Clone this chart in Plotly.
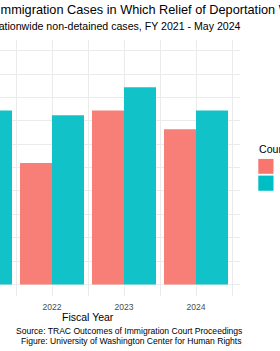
import plotly.graph_objects as go

# ---- data ----
years = [2021, 2022, 2023, 2024]
no_counsel = [24.9, 13.0, 18.6, 16.6]      # red series
with_counsel = [18.6, 18.1, 21.1, 18.6]    # teal series
series_names = ["No", "Yes"]
x_tick_vals = [2021, 2021.5, 2022, 2022.5, 2023, 2023.5, 2024, 2024.5]
x_tick_text = ["2021", "", "2022", "", "2023", "", "2024", ""]
y_grid_vals = [0, 2.5, 5, 7.5, 10, 12.5, 15, 17.5, 20, 22.5, 25]

title_text = "Immigration Cases in Which Relief of Deportation Was Granted"
subtitle_text = "Nationwide non-detained cases, FY 2021 - May 2024"
caption_lines = ["Source: TRAC Outcomes of Immigration Court Proceedings",
                 "Figure: University of Washington Center for Human Rights"]
x_title = "Fiscal Year"
legend_title = "Counsel"

RED = "#F8766D"
TEAL = "#00BFC4"
FONT = "Liberation Sans, Arial, sans-serif"

W, H = 280, 351
ML, MR, MT, MB = 0, 40, 40.3, 54.5
PW = W - ML - MR
PH = H - MT - MB


def px(p):
    return (p - ML) / PW


def py(p):
    return (H - MB - p) / PH


fig = go.Figure()
fig.add_trace(go.Bar(x=years, y=no_counsel, name=series_names[0],
                     marker=dict(color=RED, line=dict(width=0)), opacity=0.93,
                     showlegend=False))
fig.add_trace(go.Bar(x=years, y=with_counsel, name=series_names[1],
                     marker=dict(color=TEAL, line=dict(width=0)), opacity=0.93,
                     showlegend=False))

ann = []
ann.append(dict(text=title_text, x=px(-5.2), y=py(9.5), xref="paper", yref="paper",
                xanchor="left", yanchor="middle", showarrow=False,
                font=dict(family=FONT, size=12.74, color="black")))
ann.append(dict(text=subtitle_text, x=px(243), y=py(26.3), xref="paper", yref="paper",
                xanchor="right", yanchor="middle", showarrow=False,
                font=dict(family=FONT, size=10.6, color="black")))
ann.append(dict(text=x_title, x=px(88), y=py(317.2), xref="paper", yref="paper",
                xanchor="center", yanchor="middle", showarrow=False,
                font=dict(family=FONT, size=10.5, color="black")))
ann.append(dict(text=caption_lines[0], x=px(243.7), y=py(332), xref="paper", yref="paper",
                xanchor="right", yanchor="middle", showarrow=False,
                font=dict(family=FONT, size=8.57, color="black")))
ann.append(dict(text=caption_lines[1], x=px(243.7), y=py(341.2), xref="paper", yref="paper",
                xanchor="right", yanchor="middle", showarrow=False,
                font=dict(family=FONT, size=8.57, color="black")))
ann.append(dict(text=legend_title, x=px(256.5), y=py(149.5), xref="paper", yref="paper",
                xanchor="left", yanchor="middle", showarrow=False,
                font=dict(family=FONT, size=10.6, color="black")))
ann.append(dict(text=series_names[0], x=px(279), y=py(166.8), xref="paper", yref="paper",
                xanchor="left", yanchor="middle", showarrow=False,
                font=dict(family=FONT, size=8.5, color="black")))
ann.append(dict(text=series_names[1], x=px(279), y=py(183.5), xref="paper", yref="paper",
                xanchor="left", yanchor="middle", showarrow=False,
                font=dict(family=FONT, size=8.5, color="black")))

shapes = [
    dict(type="rect", xref="paper", yref="paper", x0=px(258.3), x1=px(273.5),
         y0=py(174.2), y1=py(159.3), fillcolor=RED, line=dict(width=0)),
    dict(type="rect", xref="paper", yref="paper", x0=px(258.3), x1=px(273.5),
         y0=py(191.2), y1=py(176.0), fillcolor=TEAL, line=dict(width=0)),
]

x_lo = 2022 - 52 / 72
x_hi = 2022 + (PW - 52) / 72
y_per_px = 2.5 / 23.4
y_lo = -(H - MB - 285) * y_per_px
y_hi = y_lo + PH * y_per_px

fig.update_layout(
    width=W, height=H,
    margin=dict(l=ML, r=MR, t=MT, b=MB, pad=0),
    paper_bgcolor="white", plot_bgcolor="white",
    barmode="group", bargap=0.111, bargroupgap=0,
    annotations=ann, shapes=shapes,
    xaxis=dict(range=[x_lo, x_hi], tickvals=x_tick_vals, ticktext=x_tick_text,
               showgrid=True, gridcolor="#EBEBEB", gridwidth=1, zeroline=False,
               showline=False, ticks="", ticklabelstandoff=4,
               tickfont=dict(family=FONT, size=8.6, color="#4D4D4D")),
    yaxis=dict(range=[y_lo, y_hi], tickvals=y_grid_vals, showticklabels=False,
               showgrid=True, gridcolor="#EBEBEB", gridwidth=1, zeroline=False,
               showline=False, ticks=""),
    showlegend=False,
)

fig.write_html("out.html")
